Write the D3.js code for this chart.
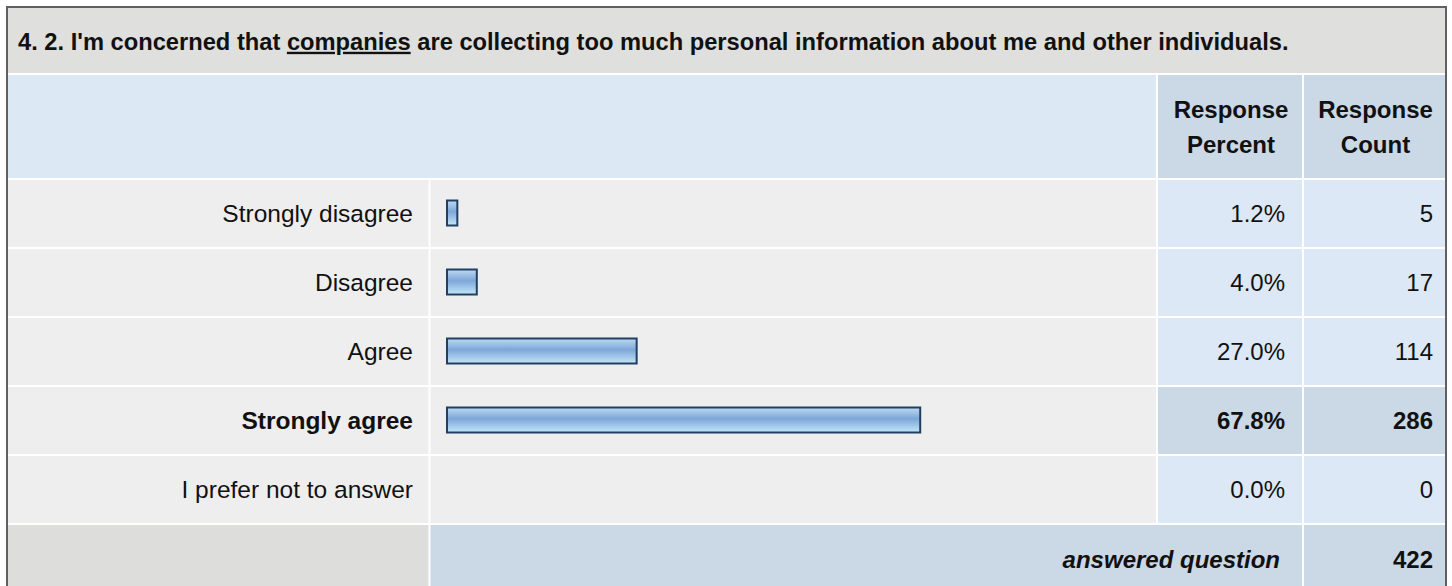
<!DOCTYPE html>
<html>
<head>
<meta charset="utf-8">
<script src="https://cdn.jsdelivr.net/npm/d3@7"></script>
<style>
  body { margin: 0; background: #fff; }
  svg text { font-family: "Liberation Sans", Arial, sans-serif; fill: #111; }
</style>
</head>
<body>
<div id="chart"></div>
<script>
const questionPre = '4. 2. I\'m concerned that '
const questionKey = 'companies'
const questionPost = ' are collecting too much personal information about me and other individuals.'

const answers = ['Strongly disagree', 'Disagree', 'Agree', 'Strongly agree', 'I prefer not to answer']
const percents = [1.2, 4.0, 27.0, 67.8, 0.0]
const counts = [5, 17, 114, 286, 0]
const headPercent = ['Response', 'Percent']
const headCount = ['Response', 'Count']
const footLabel = 'answered question'
const answeredTotal = 422
const topAnswer = 'Strongly agree'

const width = 1452
const height = 586
const fontSize = 24

// column edges (white gaps sit on them)
const colLabel = [7, 429.5]
const colBar = [429.5, 1157]
const colPct = [1157, 1303]
const colCnt = [1303, 1446]
const titleRow = [7, 74]
const headRow = [74, 179]

const rows = answers.map((a, i) => ({ answer: a, pct: percents[i], count: counts[i] }))

const yScale = d3.scaleBand()
  .domain(answers)
  .range([179, 179 + 69 * answers.length])

const footRow = [yScale.range()[1], yScale.range()[1] + 69]

const xScale = d3.scaleLinear()
  .domain([0, 100])
  .range([0, 695])

const svg = d3.select('#chart')
  .append('svg')
    .attr('width', width)
    .attr('height', height)

const defs = svg.append('defs')
const grad = defs.append('linearGradient')
  .attr('id', 'barGrad')
  .attr('x1', 0).attr('y1', 0).attr('x2', 0).attr('y2', 1)
grad.append('stop').attr('offset', '0%').attr('stop-color', '#bcdaf3')
grad.append('stop').attr('offset', '45%').attr('stop-color', '#7ea7d9')
grad.append('stop').attr('offset', '100%').attr('stop-color', '#c2e8f7')

function cell(x, y, fill) {
  svg.append('rect')
    .attr('x', x[0] + 1)
    .attr('y', y[0] + 1)
    .attr('width', x[1] - x[0] - 2)
    .attr('height', y[1] - y[0] - 2)
    .attr('fill', fill)
}

// title band
cell([colLabel[0], colCnt[1]], titleRow, '#dfdfdd')
const title = svg.append('text')
  .attr('x', 18)
  .attr('y', (titleRow[0] + titleRow[1]) / 2 + 1)
  .attr('dy', '0.35em')
  .attr('font-size', 23.7)
  .attr('font-weight', 'bold')
title.append('tspan').text(questionPre)
title.append('tspan').text(questionKey).attr('text-decoration', 'underline')
title.append('tspan').text(questionPost)

// header
cell([colLabel[0], colBar[1]], headRow, '#dde8f5')
cell(colPct, headRow, '#cbd8e6')
cell(colCnt, headRow, '#cbd8e6')
const headMid = (headRow[0] + headRow[1]) / 2
;[[colPct, headPercent], [colCnt, headCount]].forEach(([col, lines]) => {
  svg.append('g').selectAll('text')
    .data(lines).enter()
    .append('text')
      .text(d => d)
      .attr('x', (col[0] + col[1]) / 2 + 1)
      .attr('y', (d, i) => headMid - 17 + i * 35)
      .attr('dy', '0.35em')
      .attr('text-anchor', 'middle')
      .attr('font-size', fontSize)
      .attr('font-weight', 'bold')
})

// answer rows
rows.forEach(d => {
  const y = [yScale(d.answer), yScale(d.answer) + yScale.bandwidth()]
  const top = d.answer === topAnswer
  cell(colLabel, y, '#eeeeee')
  cell(colBar, y, '#eeeeee')
  cell(colPct, y, top ? '#cbd8e6' : '#dce8f5')
  cell(colCnt, y, top ? '#cbd8e6' : '#dce8f5')
})

const rowG = svg.append('g').selectAll('g')
  .data(rows).enter()
  .append('g')
    .attr('transform', d => `translate(0, ${yScale(d.answer) + yScale.bandwidth() / 2})`)

rowG.append('text')
  .text(d => d.answer)
  .attr('x', 413)
  .attr('dy', '0.35em')
  .attr('text-anchor', 'end')
  .attr('font-size', 24.5)
  .attr('font-weight', d => d.answer === topAnswer ? 'bold' : 'normal')

rowG.filter(d => d.pct > 0)
  .append('rect')
    .attr('x', 447)
    .attr('y', -13)
    .attr('width', d => xScale(d.pct) + 2)
    .attr('height', 25)
    .attr('fill', 'url(#barGrad)')
    .attr('stroke', '#213e63')
    .attr('stroke-width', 2)

rowG.append('text')
  .text(d => d.pct.toFixed(1) + '%')
  .attr('x', 1285)
  .attr('dy', '0.35em')
  .attr('text-anchor', 'end')
  .attr('font-size', fontSize)
  .attr('font-weight', d => d.answer === topAnswer ? 'bold' : 'normal')

rowG.append('text')
  .text(d => d.count)
  .attr('x', 1433)
  .attr('dy', '0.35em')
  .attr('text-anchor', 'end')
  .attr('font-size', fontSize)
  .attr('font-weight', d => d.answer === topAnswer ? 'bold' : 'normal')

// footer
cell(colLabel, footRow, '#dddddb')
cell([colBar[0], colPct[1]], footRow, '#cbd8e6')
cell(colCnt, footRow, '#cbd8e6')
const footMid = (footRow[0] + footRow[1]) / 2 + 1
svg.append('text')
  .text(footLabel)
  .attr('x', 1280)
  .attr('y', footMid)
  .attr('dy', '0.35em')
  .attr('text-anchor', 'end')
  .attr('font-size', fontSize)
  .attr('font-weight', 'bold')
  .attr('font-style', 'italic')
svg.append('text')
  .text(answeredTotal)
  .attr('x', 1433)
  .attr('y', footMid)
  .attr('dy', '0.35em')
  .attr('text-anchor', 'end')
  .attr('font-size', fontSize)
  .attr('font-weight', 'bold')

// outer border
svg.append('rect')
  .attr('x', 7)
  .attr('y', 7)
  .attr('width', colCnt[1] - 7)
  .attr('height', footRow[1])
  .attr('fill', 'none')
  .attr('stroke', '#606060')
  .attr('stroke-width', 2)
</script>
</body>
</html>
